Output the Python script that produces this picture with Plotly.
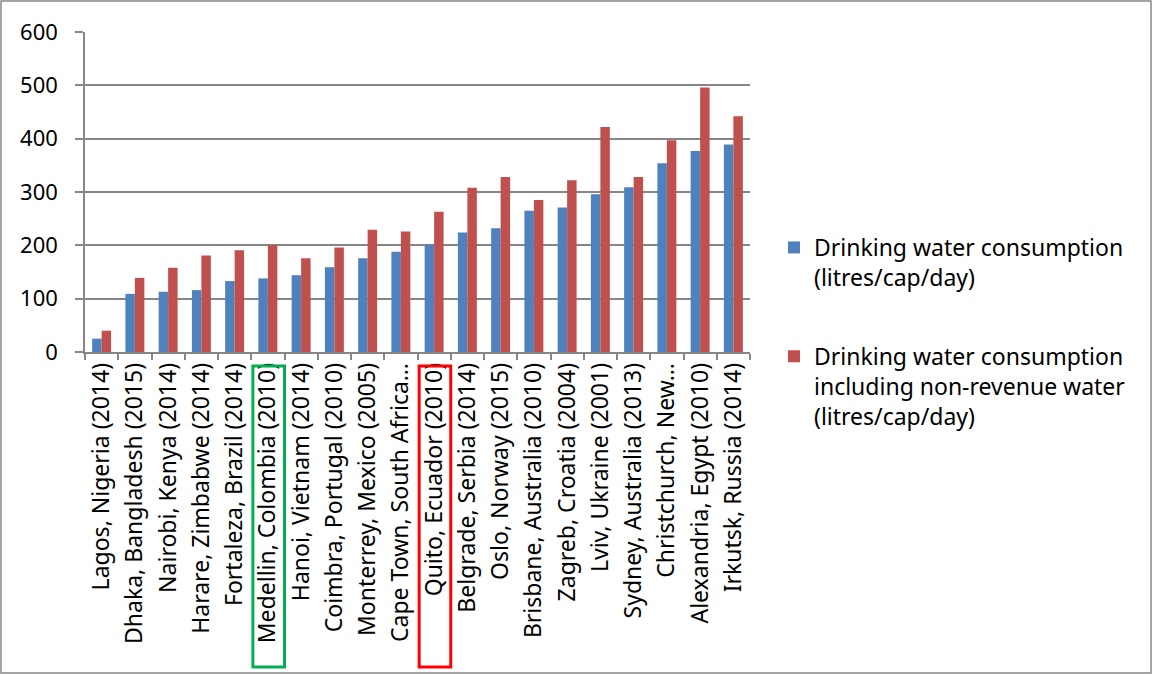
import plotly.graph_objects as go

cities = [
    "Lagos, Nigeria (2014)", "Dhaka, Bangladesh (2015)", "Nairobi, Kenya (2014)",
    "Harare, Zimbabwe (2014)", "Fortaleza, Brazil (2014)", "Medellin, Colombia (2010)",
    "Hanoi, Vietnam (2014)", "Coimbra, Portugal (2010)", "Monterrey, Mexico (2005)",
    "Cape Town, South Africa…", "Quito, Ecuador (2010)", "Belgrade, Serbia (2014)",
    "Oslo, Norway (2015)", "Brisbane, Australia (2010)", "Zagreb, Croatia (2004)",
    "Lviv, Ukraine (2001)", "Sydney, Australia (2013)", "Christchurch, New…",
    "Alexandria, Egypt (2010)", "Irkutsk, Russia (2014)",
]
consumption = [25, 109, 113, 116, 133, 138, 144, 159, 176, 188,
               201, 224, 232, 265, 271, 296, 309, 354, 377, 389]
consumption_nrw = [40, 139, 158, 181, 191, 200, 176, 196, 229, 226,
                   263, 308, 328, 285, 322, 422, 328, 397, 496, 442]
y_ticks = [0, 100, 200, 300, 400, 500, 600]
series_names = [
    "Drinking water consumption<br>(litres/cap/day)",
    "Drinking water consumption<br>including non-revenue water<br>(litres/cap/day)",
]
highlight = {"Medellin, Colombia (2010)": "#00b050", "Quito, Ecuador (2010)": "#ff0000"}

FONT = "Noto Sans, Open Sans, sans-serif"
W, H = 1153, 675
L, R, T, B = 85, 403, 32, 323
pw, ph = W - L - R, H - T - B

fig = go.Figure()
fig.add_trace(go.Bar(x=cities, y=consumption, name=series_names[0],
                     marker=dict(color="#4f81bd", line=dict(width=0)),
                     legendgroup="a"))
fig.add_trace(go.Bar(x=cities, y=consumption_nrw, name=series_names[1],
                     marker=dict(color="#c0504d", line=dict(width=0)),
                     legendgroup="b"))

shapes = []
for name, col in highlight.items():
    i = cities.index(name)
    shapes.append(dict(type="rect", xref="x", yref="paper",
                       x0=i - 0.45, x1=i + 0.50,
                       y0=(T + ph - 667) / ph, y1=(T + ph - 366) / ph,
                       line=dict(color=col, width=3), fillcolor="rgba(0,0,0,0)"))
# outer chart border
shapes.append(dict(type="rect", xref="paper", yref="paper",
                   x0=(1 - L) / pw, x1=(W - 2 - L) / pw,
                   y0=(T + ph - (H - 2)) / ph, y1=(T + ph - 1) / ph,
                   line=dict(color="#868686", width=1.5), fillcolor="rgba(0,0,0,0)"))

fig.update_layout(
    width=W, height=H,
    margin=dict(l=L, r=R, t=T, b=B),
    paper_bgcolor="white", plot_bgcolor="white",
    font=dict(family=FONT, size=23, color="black"),
    barmode="group", bargap=0.43, bargroupgap=0,
    showlegend=True,
    legend=dict(x=(774 - L) / pw, y=(T + ph - 226) / ph, xanchor="left", yanchor="top",
                traceorder="grouped", tracegroupgap=46, valign="top",
                font=dict(family=FONT, size=23, color="black"),
                bgcolor="rgba(0,0,0,0)", itemwidth=30),
    shapes=shapes,
    xaxis=dict(type="category", tickangle=-90, showline=True, linecolor="#868686",
               linewidth=1.5, ticks="outside", tickson="boundaries", ticklen=6,
               tickcolor="#868686", tickwidth=1.5, showgrid=False,
               tickfont=dict(family=FONT, size=23, color="black")),
    yaxis=dict(range=[0, 600], tickvals=y_ticks, showline=True, linecolor="#868686",
               linewidth=1.5, ticks="outside", ticklen=8, tickcolor="#868686",
               tickwidth=1.5, showgrid=True, gridcolor="#868686", gridwidth=1.5,
               zeroline=False, ticklabelstandoff=13,
               tickfont=dict(family=FONT, size=22, color="black")),
)

fig.write_html("out.html")
